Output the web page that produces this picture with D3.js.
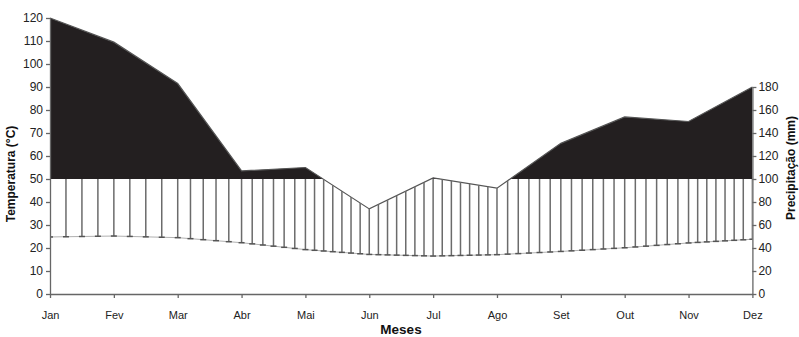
<!DOCTYPE html>
<html><head><meta charset="utf-8">
<script src="https://cdn.jsdelivr.net/npm/d3@7"></script>
<style>
body{margin:0;background:#fff;}
svg{display:block;font-family:"Liberation Sans",Arial,sans-serif;}
.ax text{fill:#222;}
</style></head>
<body><svg id="c" width="799" height="337"></svg>
<script>
const months = ["Jan","Fev","Mar","Abr","Mai","Jun","Jul","Ago","Set","Out","Nov","Dez"];
const precipitation = [240,219,183,107,110,74,101,92,131,154,150,180]; // mm
const temperature = [24.8,25.2,24.5,22.3,19.3,17.2,16.5,17.1,18.5,20.1,22.2,23.8]; // °C
const tempTicks = [0,10,20,30,40,50,60,70,80,90,100,110,120];
const precTicks = [0,20,40,60,80,100,120,140,160,180];
const hatchPerMonth = [4,4,5,6,7,7,7,6,6,6,7];

const svg = d3.select("#c");
const x = d3.scaleLinear().domain([0,11]).range([50,752.4]);
const y = d3.scaleLinear().domain([0,120]).range([294,18]);
const yR = d3.scaleLinear().domain([0,180]).range([y(0), y(90)]);
const yP = v => y(v/2);

const curve = d3.curveLinear;
const pIdx = precipitation.map((v,i)=>i);

const defs = svg.append("defs");
defs.append("clipPath").attr("id","above").append("rect")
  .attr("x",x(0)).attr("y",0).attr("width",x(11)-x(0)).attr("height",y(50));
defs.append("clipPath").attr("id","under").append("path")
  .attr("d", d3.area().x(i=>x(i)).y0(y(0)).y1(i=>yP(precipitation[i])).curve(curve)(pIdx));

// black area above 100 mm
svg.append("path")
  .attr("clip-path","url(#above)")
  .attr("fill","#231f20")
  .attr("d", d3.area().x(i=>x(i)).y0(y(50)).y1(i=>yP(precipitation[i])).curve(curve)(pIdx));

// precipitation line
svg.append("path")
  .attr("fill","none").attr("stroke","#555").attr("stroke-width",1.2)
  .attr("d", d3.line().x(i=>x(i)).y(i=>yP(precipitation[i])).curve(curve)(pIdx));

// temperature line
svg.append("path").attr("fill","none").attr("stroke","#b0b0b0").attr("stroke-width",1)
  .attr("d", d3.line().x((d,i)=>x(i)).y(d=>y(d))(temperature));

// hatch (humid period)
const tempAt = t => {
  const i = Math.min(10, Math.floor(t)); const f = t - i;
  return temperature[i]*(1-f) + temperature[i+1]*f;
};
const steps = [0];
hatchPerMonth.forEach((n,m)=>{ for(let k=1;k<=n;k++) steps.push(m + k/n); });
const hg = svg.append("g");
hg.append("g").attr("clip-path","url(#under)").selectAll("line").data(steps).join("line")
  .attr("x1",t=>x(t)).attr("x2",t=>x(t))
  .attr("y1",t=>y(tempAt(t))).attr("y2",y(50))
  .attr("stroke","#6b6b6b").attr("stroke-width",1.5);
hg.selectAll("line.cap").data(steps).join("line").attr("class","cap")
  .attr("x1",t=>Math.max(x(0),x(t)-3)).attr("x2",t=>Math.min(x(11),x(t)+3))
  .attr("y1",t=>y(tempAt(t))).attr("y2",t=>y(tempAt(t)))
  .attr("stroke","#555").attr("stroke-width",1.5);

// axes
const left = svg.append("g").attr("class","ax").attr("transform",`translate(${x(0)},0)`)
  .call(d3.axisLeft(y).tickValues(tempTicks).tickSize(4).tickPadding(3).tickSizeOuter(0));
left.selectAll("text").attr("font-size",12);
const right = svg.append("g").attr("class","ax").attr("transform",`translate(${x(11)},0)`)
  .call(d3.axisRight(yR).tickValues(precTicks).tickSize(4).tickPadding(2).tickSizeOuter(0));
right.selectAll("text").attr("font-size",12);
const bottom = svg.append("g").attr("class","ax").attr("transform",`translate(0,${y(0)})`)
  .call(d3.axisBottom(x).tickValues(d3.range(12)).tickFormat(i=>months[i]).tickSize(4).tickPadding(13).tickSizeOuter(0));
bottom.selectAll("text").attr("font-size",11).attr("font-family","'Liberation Sans Narrow','Liberation Sans',Arial,sans-serif");
svg.selectAll(".ax path.domain, .ax line").attr("stroke","#666").attr("stroke-width",1.3);

// titles
svg.append("text").attr("x",401).attr("y",334).attr("text-anchor","middle")
  .attr("font-size",13.5).attr("font-weight","bold").attr("fill","#111").text("Meses");
svg.append("text").attr("transform","translate(15,174) rotate(-90)").attr("text-anchor","middle")
  .attr("font-size",12).attr("font-weight","bold").attr("fill","#111").text("Temperatura (°C)");
svg.append("text").attr("transform","translate(795,168) rotate(-90)").attr("text-anchor","middle")
  .attr("font-size",12).attr("font-weight","bold").attr("fill","#111").text("Precipitação (mm)");
</script></body></html>
